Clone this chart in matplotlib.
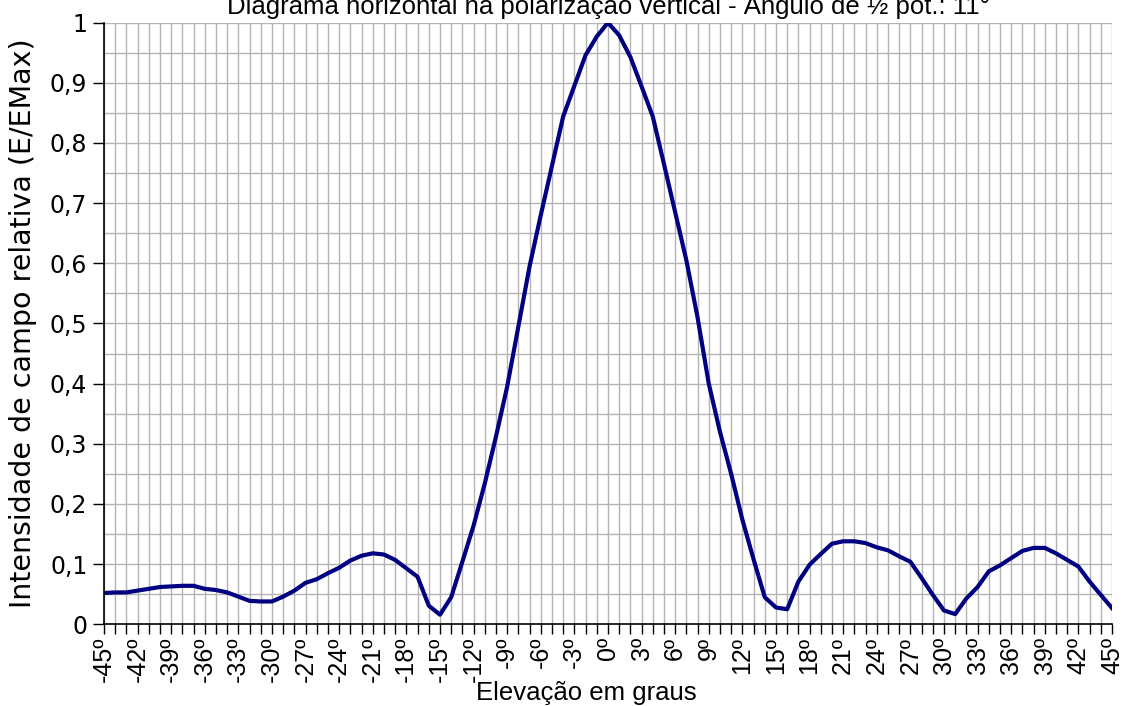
import matplotlib
matplotlib.use("Agg")
import matplotlib.pyplot as plt
import numpy as np

# elevation angle (degrees) and relative field strength
angles = list(range(-45, 46))
field = [
    0.052, 0.053, 0.053, 0.056, 0.059, 0.062, 0.063, 0.064, 0.064, 0.059,   # -45..-36
    0.057, 0.053, 0.046, 0.039, 0.038, 0.038, 0.046, 0.056, 0.069, 0.075,   # -35..-26
    0.085, 0.094, 0.106, 0.114, 0.118, 0.116, 0.107, 0.093, 0.079, 0.031,   # -25..-16
    0.016, 0.045, 0.104, 0.164, 0.234, 0.312, 0.395, 0.495, 0.595, 0.680,   # -15..-6
    0.762, 0.844, 0.895, 0.946, 0.977, 1.000, 0.979, 0.943, 0.894, 0.844,   # -5..4
    0.765, 0.685, 0.605, 0.510, 0.400, 0.320, 0.250, 0.174, 0.108, 0.045,   # 5..14
    0.028, 0.025, 0.071, 0.099, 0.117, 0.134, 0.138, 0.138, 0.135, 0.128,   # 15..24
    0.123, 0.113, 0.104, 0.077, 0.049, 0.023, 0.017, 0.043, 0.062, 0.088,   # 25..34
    0.098, 0.110, 0.122, 0.127, 0.127, 0.118, 0.107, 0.096, 0.071, 0.049,   # 35..44
    0.027,                                                                  # 45
]

x_labels = [("%dº" % a) if a % 3 == 0 else "" for a in angles]
y_labels = ["0", "0,1", "0,2", "0,3", "0,4", "0,5", "0,6", "0,7", "0,8", "0,9", "1"]

title = "Diagrama horizontal na polarização vertical - Ângulo de ½ pot.: 11°"

plt.rcParams["font.family"] = ["Liberation Sans", "DejaVu Sans"]

fig = plt.figure(figsize=(11.24, 7.06), dpi=100)
ax = fig.add_axes([0.0925, 0.1157, 0.8968, 0.8522])

# grid: every degree, every 0.05
for a in angles:
    ax.axvline(a, color="#b3b3b3", lw=1.0, zorder=1)
for v in np.arange(0.05, 1.001, 0.05):
    ax.axhline(v, color="#b3b3b3", lw=1.0, zorder=1)

ax.plot(angles, field, color="#000080", lw=3.0, zorder=3)

ax.set_xlim(-45, 45)
ax.set_ylim(0, 1)

ax.set_xticks(angles)
ax.set_xticklabels(x_labels, rotation=90, fontsize=18)
ax.set_yticks(np.linspace(0, 1, 11))
ax.set_yticklabels(y_labels, fontsize=17, family="DejaVu Sans")

ax.tick_params(axis="x", direction="out", length=7, width=1, pad=2, color="black")
ax.tick_params(axis="y", direction="out", length=8, width=1, pad=4, color="black")

for side in ["top", "right"]:
    ax.spines[side].set_visible(False)
for side in ["left", "bottom"]:
    ax.spines[side].set_color("black")
    ax.spines[side].set_linewidth(1.2)
    ax.spines[side].set_zorder(4)

ax.set_title(title, fontsize=18.5, pad=6.5)
ax.set_xlabel("Elevação em graus", fontsize=18.5)
ax.xaxis.set_label_coords(0.479, -0.095)
ax.set_ylabel("Intensidade de campo relativa (E/EMax)", fontsize=20.5,
              family="DejaVu Sans")
ax.yaxis.set_label_coords(-0.066, 0.5)

fig.savefig("out.png", dpi=100)
